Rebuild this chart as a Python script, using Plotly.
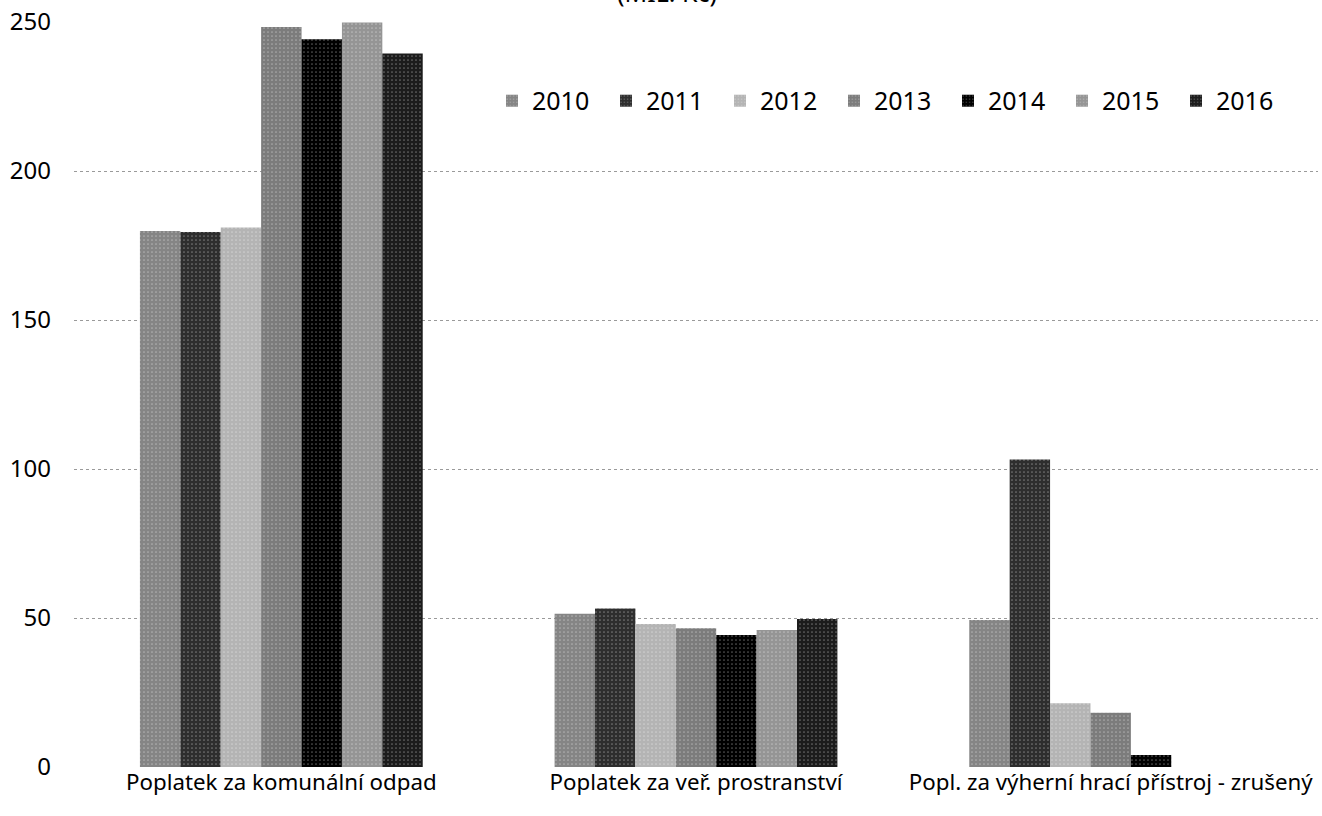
import plotly.graph_objects as go

categories = ["Poplatek za komunální odpad", "Poplatek za veř. prostranství", "Popl. za výherní hrací přístroj - zrušený"]
years = ["2010", "2011", "2012", "2013", "2014", "2015", "2016"]
values = {
    "2010": [179.9, 51.4, 49.3],
    "2011": [179.5, 53.2, 103.2],
    "2012": [181.0, 48.0, 21.4],
    "2013": [248.3, 46.6, 18.2],
    "2014": [244.2, 44.3, 4.0],
    "2015": [249.8, 46.0, 0],
    "2016": [239.4, 49.7, 0],
}
colors = {
    "2010": "#858585",
    "2011": "#2e2e2e",
    "2012": "#b4b4b4",
    "2013": "#7c7c7c",
    "2014": "#000000",
    "2015": "#959595",
    "2016": "#1c1c1c",
}
y_ticks = [0, 50, 100, 150, 200, 250]

font = "Noto Sans"
fig = go.Figure()
for yr in years:
    fig.add_trace(go.Bar(
        name=yr, x=categories, y=values[yr],
        marker=dict(color=colors[yr], line=dict(width=0),
                    pattern=dict(shape=".", fgcolor="#ffffff", size=4, solidity=0.15, fgopacity=0.35)),
    ))

fig.update_layout(
    width=1322, height=816,
    barmode="group", bargap=0.318, bargroupgap=0,
    paper_bgcolor="white", plot_bgcolor="white",
    margin=dict(l=74, r=4, t=22, b=49, autoexpand=False),
    font=dict(family=font, size=23, color="#000"),
    showlegend=True,
    legend=dict(orientation="h", x=0.336, y=0.894, xanchor="left", yanchor="middle",
                entrywidth=69, entrywidthmode="pixels",
                font=dict(family=font, size=25, color="#000"),
                bgcolor="rgba(0,0,0,0)", traceorder="normal"),
    xaxis=dict(showline=False, ticks="", tickfont=dict(family=font, size=22.3),
               showgrid=False, automargin=False),
    yaxis=dict(range=[0, 250], tickvals=y_ticks, showgrid=True,
               gridcolor="#9a9a9a", griddash="dot", gridwidth=1,
               zeroline=False, automargin=False,
               showline=False, ticks="", ticklabelstandoff=22,
               tickfont=dict(family=font, size=24)),
    annotations=[dict(text="(MIL. Kč)", xref="paper", yref="paper", x=0.477, y=1,
                      xanchor="center", yanchor="bottom", yshift=11, showarrow=False,
                      font=dict(family=font, size=25, color="#000"))],
)

fig.write_html("out.html", config={"displayModeBar": False},
               post_script="document.body.style.margin='0';document.body.style.overflow='hidden';")
